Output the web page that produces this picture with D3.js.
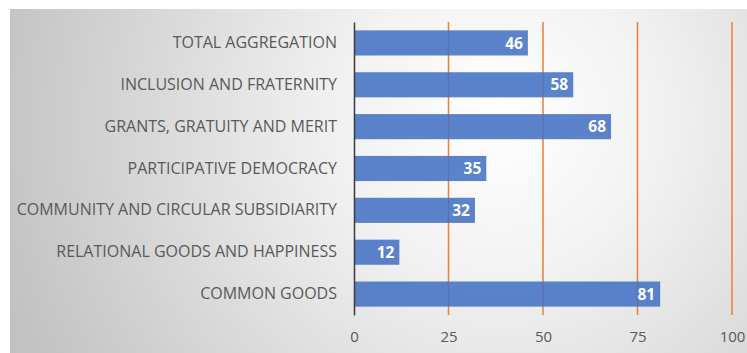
<!DOCTYPE html>
<html>
<head>
<meta charset="utf-8">
<script src="https://cdn.jsdelivr.net/npm/d3@7"></script>
<style>
  html, body { margin: 0; padding: 0; background: #ffffff; }
  svg { display: block; }
</style>
</head>
<body>
<svg id="chart" width="747" height="353"></svg>
<script>
const categories = [
  "TOTAL AGGREGATION",
  "INCLUSION AND FRATERNITY",
  "GRANTS, GRATUITY AND MERIT",
  "PARTICIPATIVE DEMOCRACY",
  "COMMUNITY AND CIRCULAR SUBSIDIARITY",
  "RELATIONAL GOODS AND HAPPINESS",
  "COMMON GOODS"
];
const values = [46, 58, 68, 35, 32, 12, 81];
const tickValues = [0, 25, 50, 75, 100];
const tickLabels = ["0", "25", "50", "75", "100"];

const svg = d3.select("#chart");
const W = 747, H = 353;

// background gradient
const defs = svg.append("defs");
const grad = defs.append("radialGradient")
  .attr("id", "bg")
  .attr("gradientUnits", "userSpaceOnUse")
  .attr("cx", 500).attr("cy", 120).attr("r", 520);
grad.append("stop").attr("offset", "0%").attr("stop-color", "#ffffff");
grad.append("stop").attr("offset", "30%").attr("stop-color", "#f2f2f2");
grad.append("stop").attr("offset", "100%").attr("stop-color", "#c2c2c2");

svg.append("rect").attr("x", 0).attr("y", 0).attr("width", W).attr("height", H).attr("fill", "#ffffff");
svg.append("rect").attr("x", 10).attr("y", 9).attr("width", W - 10).attr("height", H - 9).attr("fill", "url(#bg)");

const x = d3.scaleLinear().domain([0, 100]).range([354, 732]);
const y = d3.scaleBand().domain(categories).range([22, 315]).paddingInner(0.4).paddingOuter(0.2);

// gridlines
svg.append("g").selectAll("line")
  .data(tickValues.filter(d => d > 0))
  .join("line")
  .attr("x1", d => x(d)).attr("x2", d => x(d))
  .attr("y1", 22).attr("y2", 315)
  .attr("stroke", "#ED7D31").attr("stroke-width", 1.5);

// bars
svg.append("g").selectAll("rect")
  .data(values)
  .join("rect")
  .attr("x", x(0))
  .attr("y", (d, i) => y(categories[i]))
  .attr("width", d => x(d) - x(0))
  .attr("height", y.bandwidth())
  .attr("fill", "#4472C4")
  .attr("fill-opacity", 0.88);

// value labels
svg.append("g").selectAll("text")
  .data(values)
  .join("text")
  .attr("x", d => x(d) - 5)
  .attr("y", (d, i) => y(categories[i]) + y.bandwidth() / 2)
  .attr("dy", "0.36em")
  .attr("text-anchor", "end")
  .attr("font-family", "'Open Sans', sans-serif")
  .attr("font-weight", "bold")
  .attr("font-size", 15.5)
  .attr("fill", "#ffffff")
  .text(d => d);

// y axis
const yAxis = d3.axisLeft(y).tickSize(0).tickPadding(17);
const gy = svg.append("g").attr("transform", `translate(${x(0)},0)`).call(yAxis);
gy.select(".domain").attr("stroke", "#3a3a3a").attr("stroke-width", 1.5);
gy.selectAll("text")
  .attr("font-family", "'Open Sans', sans-serif")
  .attr("font-size", 16)
  .attr("fill", "#595959");

// x axis labels
const xAxis = d3.axisBottom(x).tickValues(tickValues).tickSize(0).tickPadding(16)
  .tickFormat((d, i) => tickLabels[i]);
const gx = svg.append("g").attr("transform", `translate(0,315)`).call(xAxis);
gx.select(".domain").remove();
gx.selectAll("text")
  .attr("font-family", "'Open Sans', sans-serif")
  .attr("font-size", 15)
  .attr("fill", "#595959");
</script>
</body>
</html>
